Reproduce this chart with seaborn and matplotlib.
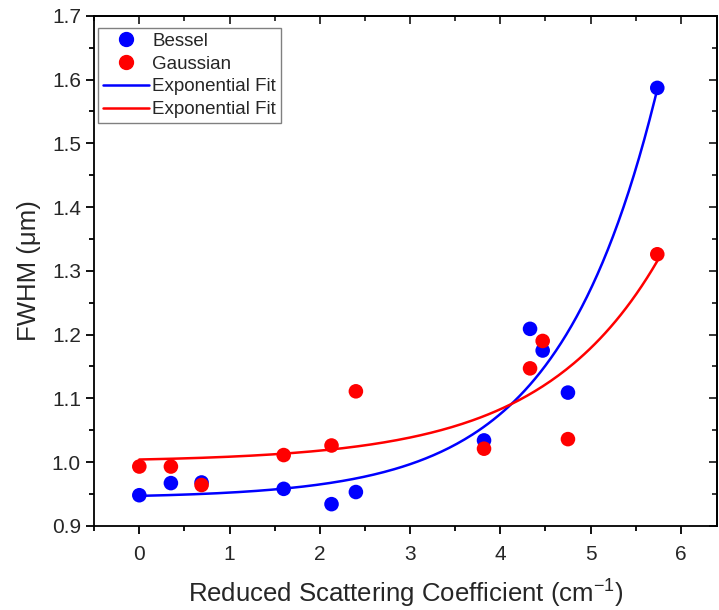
import numpy as np
import pandas as pd
import matplotlib
matplotlib.use("Agg")
import matplotlib.pyplot as plt
from matplotlib.lines import Line2D
from matplotlib.ticker import MultipleLocator, FormatStrFormatter
import seaborn as sns

# scattering values (cm^-1)
scattering = [0.0, 0.35, 0.69, 1.60, 2.13, 2.40, 3.82, 4.33, 4.47, 4.75, 5.74]
# FWHM (um)
fwhm_bessel = [0.948, 0.967, 0.968, 0.958, 0.934, 0.953, 1.034, 1.209, 1.175, 1.109, 1.587]
fwhm_gaussian = [0.993, 0.993, 0.964, 1.011, 1.026, 1.111, 1.021, 1.147, 1.190, 1.036, 1.326]

# exponential fit params y = y0 + A*exp(x/t)
fit_bessel = (0.9435, 0.003475, 1.1)
fit_gaussian = (1.0002, 0.00381, 1.3)

sns.set_style("ticks")
plt.rcParams["font.family"] = ["Liberation Sans", "DejaVu Sans"]
plt.rcParams["mathtext.fontset"] = "custom"
plt.rcParams["mathtext.rm"] = "Liberation Sans"
plt.rcParams["mathtext.it"] = "Liberation Sans"

df = pd.DataFrame({
    "x": scattering * 2,
    "y": fwhm_bessel + fwhm_gaussian,
    "beam": ["Bessel"] * len(scattering) + ["Gaussian"] * len(scattering),
})

xs = np.linspace(0, max(scattering), 200)
fits = pd.DataFrame({
    "x": np.concatenate([xs, xs]),
    "y": np.concatenate([fit_bessel[0] + fit_bessel[1] * np.exp(xs / fit_bessel[2]),
                         fit_gaussian[0] + fit_gaussian[1] * np.exp(xs / fit_gaussian[2])]),
    "beam": ["Bessel"] * len(xs) + ["Gaussian"] * len(xs),
})

colors = {"Bessel": "#0000ff", "Gaussian": "#ff0000"}

fig = plt.figure(figsize=(7.19, 6.10), dpi=100)
ax = fig.add_axes([0.131, 0.138, 0.866, 0.836])

sns.lineplot(data=fits, x="x", y="y", hue="beam", palette=colors, linewidth=1.8,
             legend=False, ax=ax, zorder=2)
sns.scatterplot(data=df, x="x", y="y", hue="beam", palette=colors, s=110,
                edgecolor="none", legend=False, ax=ax, zorder=3)

ax.set_xlim(-0.5, 6.4)
ax.set_ylim(0.9, 1.7)
ax.xaxis.set_major_locator(MultipleLocator(1))
ax.xaxis.set_minor_locator(MultipleLocator(0.5))
ax.yaxis.set_major_locator(MultipleLocator(0.1))
ax.yaxis.set_minor_locator(MultipleLocator(0.05))
ax.yaxis.set_major_formatter(FormatStrFormatter("%.1f"))

ax.tick_params(which="both", width=1.3, labelsize=15, color="black", direction="out",
               top=False, right=False)
ax.tick_params(which="major", length=6)
ax.tick_params(which="minor", length=3.5)
ax.tick_params(axis="x", pad=8)

# inward ticks on top and right, no labels
ax2 = ax.secondary_xaxis("top")
ax2.xaxis.set_major_locator(MultipleLocator(1))
ax2.xaxis.set_minor_locator(MultipleLocator(0.5))
ax2.tick_params(which="both", direction="in", labeltop=False, width=1.3)
ax2.tick_params(which="major", length=6)
ax2.tick_params(which="minor", length=3.5)
ax3 = ax.secondary_yaxis("right")
ax3.yaxis.set_major_locator(MultipleLocator(0.1))
ax3.yaxis.set_minor_locator(MultipleLocator(0.05))
ax3.tick_params(which="both", direction="in", labelright=False, width=1.3)
ax3.tick_params(which="major", length=6)
ax3.tick_params(which="minor", length=3.5)
for a in (ax, ax2, ax3):
    for sp in a.spines.values():
        sp.set_linewidth(1.3)
        sp.set_color("black")

ax.set_xlabel("Reduced Scattering Coefficient (cm$^{-1}$)", fontsize=18.5, labelpad=10)
ax.set_ylabel("FWHM (\u03bcm)", fontsize=18.5, labelpad=8)

handles = [
    Line2D([], [], linestyle="none", marker="o", markersize=10, color=colors["Bessel"]),
    Line2D([], [], linestyle="none", marker="o", markersize=10, color=colors["Gaussian"]),
    Line2D([], [], color=colors["Bessel"], linewidth=1.8),
    Line2D([], [], color=colors["Gaussian"], linewidth=1.8),
]
labels = ["Bessel", "Gaussian", "Exponential Fit", "Exponential Fit"]
leg = ax.legend(handles, labels, loc="upper left", bbox_to_anchor=(0.006, 0.976),
                fontsize=13.5, frameon=True, fancybox=False, framealpha=1,
                edgecolor="#808080", handlelength=2.5, handletextpad=0.15,
                borderpad=0.25, borderaxespad=0, labelspacing=0.3)
leg.get_frame().set_linewidth(1.0)

fig.savefig("out.png", dpi=100)
